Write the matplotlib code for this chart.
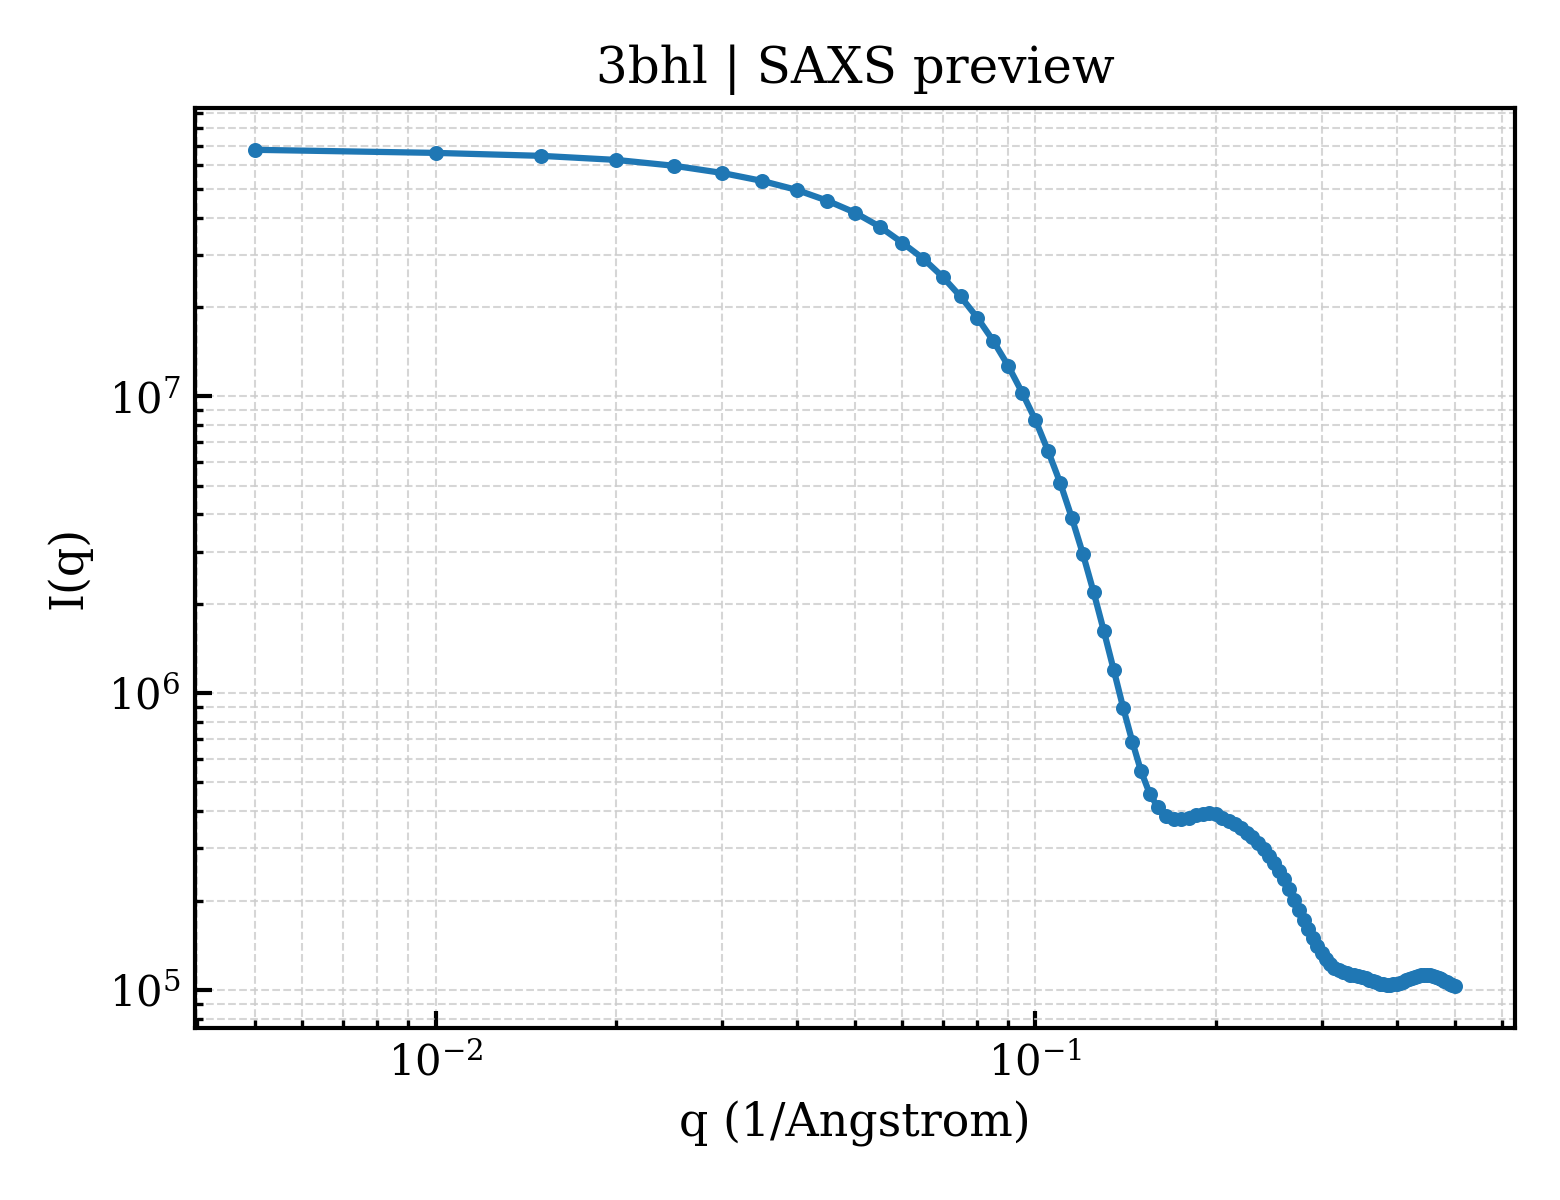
import matplotlib
matplotlib.use("Agg")
import matplotlib.pyplot as plt

plt.rcParams["font.family"] = "DejaVu Serif"
plt.rcParams["mathtext.fontset"] = "dejavuserif"

title = "3bhl | SAXS preview"

# q in 1/Angstrom, step 0.005
q = [0.005, 0.010, 0.015, 0.020, 0.025, 0.030, 0.035, 0.040, 0.045, 0.050,
     0.055, 0.060, 0.065, 0.070, 0.075, 0.080, 0.085, 0.090, 0.095, 0.100,
     0.105, 0.110, 0.115, 0.120, 0.125, 0.130, 0.135, 0.140, 0.145, 0.150,
     0.155, 0.160, 0.165, 0.170, 0.175, 0.180, 0.185, 0.190, 0.195, 0.200,
     0.205, 0.210, 0.215, 0.220, 0.225, 0.230, 0.235, 0.240, 0.245, 0.250,
     0.255, 0.260, 0.265, 0.270, 0.275, 0.280, 0.285, 0.290, 0.295, 0.300,
     0.305, 0.310, 0.315, 0.320, 0.325, 0.330, 0.335, 0.340, 0.345, 0.350,
     0.355, 0.360, 0.365, 0.370, 0.375, 0.380, 0.385, 0.390, 0.395, 0.400,
     0.405, 0.410, 0.415, 0.420, 0.425, 0.430, 0.435, 0.440, 0.445, 0.450,
     0.455, 0.460, 0.465, 0.470, 0.475, 0.480, 0.485, 0.490, 0.495, 0.500]

intensity = [6.77e7, 6.61e7, 6.46e7, 6.26e7, 5.98e7, 5.66e7, 5.32e7, 4.96e7, 4.56e7, 4.16e7,
             3.73e7, 3.29e7, 2.91e7, 2.53e7, 2.17e7, 1.84e7, 1.54e7, 1.27e7, 1.03e7, 8.31e6,
             6.53e6, 5.10e6, 3.89e6, 2.94e6, 2.19e6, 1.62e6, 1.20e6, 8.94e5, 6.87e5, 5.45e5,
             4.59e5, 4.12e5, 3.85e5, 3.76e5, 3.76e5, 3.81e5, 3.87e5, 3.90e5, 3.94e5, 3.90e5,
             3.79e5, 3.70e5, 3.61e5, 3.50e5, 3.38e5, 3.27e5, 3.12e5, 2.98e5, 2.82e5, 2.67e5,
             2.51e5, 2.36e5, 2.18e5, 2.01e5, 1.86e5, 1.72e5, 1.60e5, 1.50e5, 1.41e5, 1.33e5,
             1.27e5, 1.22e5, 1.19e5, 1.17e5, 1.15e5, 1.136e5, 1.127e5, 1.119e5, 1.110e5, 1.102e5,
             1.093e5, 1.080e5, 1.072e5, 1.060e5, 1.051e5, 1.043e5, 1.039e5, 1.039e5, 1.043e5, 1.047e5,
             1.055e5, 1.064e5, 1.076e5, 1.089e5, 1.097e5, 1.106e5, 1.114e5, 1.119e5, 1.123e5, 1.123e5,
             1.119e5, 1.114e5, 1.106e5, 1.097e5, 1.085e5, 1.072e5, 1.060e5, 1.051e5, 1.039e5, 1.031e5]

fig = plt.figure(figsize=(5.2, 4.0), dpi=300)
ax = fig.add_axes([0.125, 0.1435, 0.846, 0.7665])

ax.plot(q, intensity, "-o", color="#1f77b4", lw=1.5, ms=2.6)
ax.set_xscale("log")
ax.set_yscale("log")

ax.grid(True, which="both", ls="--", lw=0.5, color="#cccccc", alpha=0.8)
ax.tick_params(which="both", direction="in", labelsize=10)
ax.tick_params(which="major", length=4, width=1.0)
ax.tick_params(which="minor", length=2, width=0.8)
for s in ax.spines.values():
    s.set_linewidth(1.0)

ax.set_xlabel("q (1/Angstrom)", fontsize=11)
ax.set_ylabel("I(q)", fontsize=11)
ax.set_title(title, fontsize=12)

fig.savefig("out.png", dpi=300)
